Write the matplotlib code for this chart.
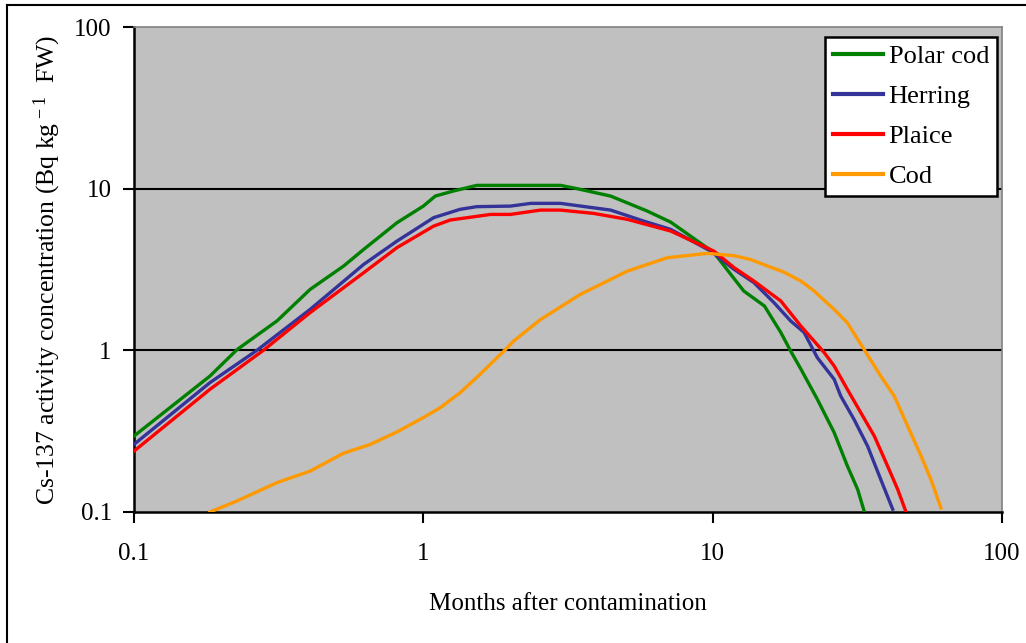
import matplotlib
matplotlib.use("Agg")
import matplotlib.pyplot as plt
from matplotlib.lines import Line2D

plt.rcParams["font.family"] = ["Liberation Serif", "DejaVu Serif"]
plt.rcParams["mathtext.fontset"] = "custom"
plt.rcParams["mathtext.rm"] = "Liberation Serif"
plt.rcParams["mathtext.it"] = "Liberation Serif:italic"

# Months after contamination / activity concentration (Bq/kg FW)
polar_cod_t = [0.1, 0.183, 0.227, 0.312, 0.406, 0.53, 0.622, 0.811, 1.0, 1.10, 1.27, 1.53,
               2.98, 3.40, 4.44, 5.94, 7.16, 10.1, 12.8, 15.1, 17.2, 18.6, 20.2, 23.0,
               26.3, 29.2, 31.7, 33.4]
polar_cod_c = [0.295, 0.693, 1.01, 1.52, 2.38, 3.32, 4.21, 6.16, 7.80, 9.0, 9.67, 10.48,
               10.48, 10.0, 9.0, 7.27, 6.21, 4.02, 2.33, 1.88, 1.29, 0.99, 0.763, 0.498,
               0.310, 0.193, 0.138, 0.101]

herring_t = [0.1, 0.183, 0.266, 0.406, 0.622, 0.811, 1.086, 1.34, 1.53, 2.0, 2.35, 2.98,
             4.44, 5.78, 7.16, 9.84, 11.85, 13.9, 16.3, 18.6, 20.7, 23.0, 26.3, 27.7,
             30.8, 34.3, 38.1, 41.9]
herring_c = [0.262, 0.631, 1.0, 1.79, 3.40, 4.74, 6.62, 7.45, 7.74, 7.80, 8.11, 8.11,
             7.37, 6.30, 5.60, 4.11, 3.17, 2.62, 1.97, 1.52, 1.29, 0.901, 0.662, 0.522,
             0.374, 0.256, 0.159, 0.104]

plaice_t = [0.1, 0.183, 0.28, 0.406, 0.622, 0.811, 1.086, 1.24, 1.71, 2.0, 2.54, 2.98,
            3.88, 5.07, 7.16, 10.1, 11.85, 13.9, 17.2, 20.2, 24.3, 26.3, 29.2, 32.5,
            36.2, 40.2, 43.6, 46.5]
plaice_c = [0.238, 0.574, 1.0, 1.71, 3.02, 4.32, 5.87, 6.40, 6.93, 6.93, 7.37, 7.37,
            7.03, 6.46, 5.47, 4.11, 3.25, 2.68, 2.02, 1.41, 0.968, 0.80, 0.574, 0.412,
            0.295, 0.193, 0.138, 0.101]

cod_t = [0.183, 0.227, 0.312, 0.406, 0.53, 0.656, 0.811, 1.0, 1.145, 1.34, 1.57, 1.92,
         2.05, 2.54, 3.49, 4.32, 5.07, 6.97, 9.59, 11.85, 13.5, 15.5, 17.6, 20.2, 22.4,
         26.3, 29.2, 33.4, 38.1, 42.4, 47.2, 52.5, 56.8, 61.5]
cod_c = [0.10, 0.117, 0.152, 0.179, 0.231, 0.262, 0.313, 0.384, 0.442, 0.547, 0.71, 1.01,
         1.14, 1.55, 2.22, 2.68, 3.09, 3.74, 3.98, 3.85, 3.65, 3.32, 3.05, 2.68, 2.33,
         1.79, 1.48, 1.01, 0.693, 0.522, 0.340, 0.222, 0.159, 0.106]

species = ["Polar cod", "Herring", "Plaice", "Cod"]
colors = ["#008000", "#333399", "#FF0000", "#FF9900"]
x_ticks = [0.1, 1, 10, 100]
x_tick_labels = ["0.1", "1", "10", "100"]
y_ticks = [0.1, 1, 10, 100]
y_tick_labels = ["0.1", "1", "10", "100"]

fig = plt.figure(figsize=(10.26, 6.43), dpi=100)
ax = fig.add_axes([134 / 1026, 1 - 512 / 643, (1002 - 134) / 1026, (512 - 27) / 643])
ax.set_facecolor("#C0C0C0")

# horizontal gridlines at the inner decades
for yv in [1, 10]:
    ax.axhline(yv, color="black", lw=1.5, zorder=1)

series = [(polar_cod_t, polar_cod_c), (herring_t, herring_c),
          (plaice_t, plaice_c), (cod_t, cod_c)]
for (t, c), name, col in zip(series, species, colors):
    ax.plot(t, c, color=col, lw=2.4, label=name, zorder=3, clip_on=True)

ax.set_xscale("log")
ax.set_yscale("log")
ax.set_xlim(0.1, 100)
ax.set_ylim(0.1, 100)
ax.set_xticks(x_ticks)
ax.set_xticklabels(x_tick_labels)
ax.set_yticks(y_ticks)
ax.set_yticklabels(y_tick_labels)
ax.minorticks_off()
ax.tick_params(axis="x", which="major", direction="out", length=8, width=1.5,
               pad=14.5, labelsize=18, colors="black")
ax.tick_params(axis="y", which="major", direction="out", length=8, width=1.5,
               pad=8, labelsize=18, colors="black")

for side in ["left", "bottom"]:
    ax.spines[side].set_color("black")
    ax.spines[side].set_linewidth(1.8)
for side in ["top", "right"]:
    ax.spines[side].set_color("#808080")
    ax.spines[side].set_linewidth(1.2)

ax.set_xlabel("Months after contamination", fontsize=18, labelpad=20)
ax.set_ylabel("Cs-137 activity concentration (Bq kg$^{\\,-1}$  FW)", fontsize=18.5,
              labelpad=8)

leg = ax.legend(loc="upper right", bbox_to_anchor=(997 / 1026, 1 - 37 / 643),
                bbox_transform=fig.transFigure, fontsize=19, frameon=True,
                fancybox=False, edgecolor="black", facecolor="white", framealpha=1,
                handlelength=1.9, handletextpad=0.2, labelspacing=0.62,
                borderpad=0.3, borderaxespad=0)
leg.get_frame().set_linewidth(1.8)
for h in leg.get_lines():
    h.set_linewidth(3)

# figure border along the left and top edges
fig.add_artist(Line2D([6.5 / 1026, 6.5 / 1026], [0, 1 - 5 / 643], transform=fig.transFigure,
                      color="black", lw=1.5))
fig.add_artist(Line2D([6.5 / 1026, 1], [1 - 5 / 643, 1 - 5 / 643], transform=fig.transFigure,
                      color="black", lw=1.5))

fig.savefig("out.png", dpi=100, facecolor="white")
